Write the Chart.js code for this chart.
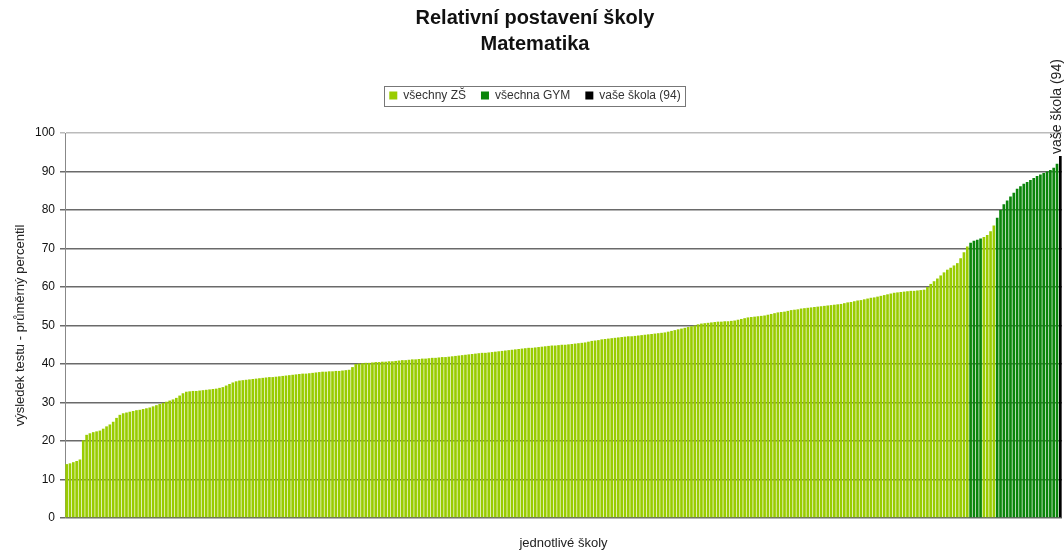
<!DOCTYPE html>
<html>
<head>
<meta charset="utf-8">
<script src="https://cdn.jsdelivr.net/npm/chart.js@4"></script>
<style>
  html, body { margin: 0; padding: 0; background: #fff; }
</style>
</head>
<body>
<canvas id="barChart" width="1064" height="552"></canvas>
<script>
// average percentile of each school, sorted from lowest to highest
const scores = [
  14, 14.2, 14.5, 14.8, 15.2, 20.2, 21.6, 22, 22.3, 22.5,
  22.7, 23.2, 23.8, 24.3, 25, 26, 26.8, 27.2, 27.4, 27.6,
  27.8, 28, 28.1, 28.3, 28.5, 28.7, 29, 29.3, 29.6, 29.9,
  30.2, 30.5, 30.8, 31.2, 31.8, 32.4, 32.8, 32.9, 33, 33,
  33.1, 33.2, 33.3, 33.4, 33.5, 33.6, 33.8, 34, 34.4, 34.8,
  35.2, 35.5, 35.7, 35.8, 35.9, 36, 36.1, 36.2, 36.3, 36.4,
  36.5, 36.6, 36.6, 36.7, 36.8, 36.9, 37, 37.1, 37.2, 37.3,
  37.4, 37.5, 37.5, 37.6, 37.7, 37.8, 37.9, 38, 38, 38.1,
  38.1, 38.2, 38.2, 38.3, 38.4, 38.5, 39.2, 40, 40.1, 40.2,
  40.3, 40.3, 40.4, 40.5, 40.5, 40.6, 40.6, 40.7, 40.7, 40.8,
  40.9, 41, 41, 41.1, 41.2, 41.2, 41.3, 41.4, 41.4, 41.5,
  41.6, 41.6, 41.7, 41.8, 41.8, 41.9, 42, 42.1, 42.2, 42.3,
  42.4, 42.5, 42.6, 42.7, 42.8, 42.9, 42.9, 43, 43.1, 43.2,
  43.3, 43.4, 43.5, 43.6, 43.7, 43.8, 43.9, 44, 44.1, 44.2,
  44.2, 44.3, 44.4, 44.5, 44.6, 44.7, 44.8, 44.8, 44.9, 45,
  45, 45.1, 45.2, 45.3, 45.4, 45.5, 45.6, 45.8, 46, 46.1,
  46.2, 46.4, 46.5, 46.6, 46.7, 46.8, 46.9, 47, 47.1, 47.2,
  47.2, 47.3, 47.4, 47.5, 47.6, 47.7, 47.8, 47.9, 48, 48.1,
  48.2, 48.4, 48.6, 48.8, 49, 49.2, 49.4, 49.6, 49.8, 50,
  50.3, 50.5, 50.6, 50.7, 50.8, 50.9, 51, 51, 51.1, 51.1,
  51.2, 51.3, 51.5, 51.7, 51.9, 52.1, 52.2, 52.3, 52.4, 52.5,
  52.6, 52.8, 53, 53.2, 53.4, 53.5, 53.6, 53.8, 54, 54.1,
  54.2, 54.4, 54.5, 54.6, 54.7, 54.8, 54.9, 55, 55.1, 55.2,
  55.3, 55.4, 55.5, 55.6, 55.8, 56, 56.1, 56.3, 56.5, 56.6,
  56.8, 57, 57.2, 57.3, 57.5, 57.7, 57.9, 58.1, 58.3, 58.5,
  58.6, 58.7, 58.8, 58.9, 59, 59, 59.1, 59.2, 59.3, 60,
  60.8, 61.5, 62.2, 63, 63.8, 64.5, 65, 65.6, 66.2, 67.5,
  69, 70.5, 71.5, 72, 72.3, 72.6, 73, 73.5, 74.5, 76,
  78, 80, 81.5, 82.5, 83.5, 84.5, 85.5, 86.2, 86.8, 87.3,
  87.8, 88.3, 88.8, 89.2, 89.6, 90, 90.4, 91, 92, 94
];
// positions (0-based) of the gymnasia and of "your" school
const gymPositions = [272, 273, 274, 275, 280, 281, 282, 283, 284, 285, 286, 287, 288, 289, 290, 291, 292, 293, 294, 295, 296, 297, 298];
const ownPosition = 299;
const schools = scores.map((s, i) => String(i + 1));

const seriesNames = ['všechny ZŠ', 'všechna GYM', 'vaše škola (94)'];
const seriesColors = ['#99cc00', '#0a850a', '#000000'];
const ownLabel = 'vaše škola (94)';

const pick = test => scores.map((v, i) => (test(i) ? v : null));
const isGym = i => gymPositions.includes(i);

const FONT = 'Liberation Sans, Arial, sans-serif';

// extra room under the legend
const legendSpace = {
  id: 'legendSpace',
  beforeInit(chart) {
    const fit = chart.legend.fit;
    chart.legend.fit = function () {
      fit.call(this);
      this.height += 21.5;
    };
  }
};

// frame round the legend, like the Excel original
const legendBox = {
  id: 'legendBox',
  afterDraw(chart) {
    const boxes = chart.legend.legendHitBoxes;
    if (!boxes || !boxes.length) return;
    const ctx = chart.ctx;
    const l = Math.min(...boxes.map(b => b.left)) - 5;
    const r = Math.max(...boxes.map(b => b.left + b.width)) + 5;
    const t = Math.min(...boxes.map(b => b.top)) - 4;
    const b = Math.max(...boxes.map(b => b.top + b.height)) + 4;
    ctx.save();
    ctx.strokeStyle = '#777';
    ctx.lineWidth = 1;
    ctx.strokeRect(Math.round(l) + 0.5, Math.round(t) + 0.5, Math.round(r - l), Math.round(b - t));
    ctx.restore();
  }
};

// vertical note above the bar of your school
const ownNote = {
  id: 'ownNote',
  afterDraw(chart) {
    const x = chart.scales.x.getPixelForValue(ownPosition);
    const y = chart.scales.y.getPixelForValue(scores[ownPosition]);
    const ctx = chart.ctx;
    ctx.save();
    ctx.translate(x - 3, y - 2);
    ctx.rotate(-Math.PI / 2);
    ctx.font = '14px ' + FONT;
    ctx.fillStyle = '#222';
    ctx.textAlign = 'left';
    ctx.textBaseline = 'middle';
    ctx.fillText(ownLabel, 0, 0);
    ctx.restore();
  }
};

new Chart(document.getElementById('barChart').getContext('2d'), {
  type: 'bar',
  data: {
    labels: schools,
    datasets: [
      {
        label: seriesNames[0],
        data: pick(i => i !== ownPosition && !isGym(i)),
        backgroundColor: seriesColors[0],
        borderWidth: 0
      },
      {
        label: seriesNames[1],
        data: pick(i => isGym(i)),
        backgroundColor: seriesColors[1],
        borderWidth: 0
      },
      {
        label: seriesNames[2],
        data: pick(i => i === ownPosition),
        backgroundColor: seriesColors[2],
        borderWidth: 0
      }
    ]
  },
  options: {
    responsive: false,
    animation: false,
    categoryPercentage: 0.8,
    barPercentage: 1,
    layout: { padding: { top: 2, left: 8, right: 2, bottom: 0 } },
    plugins: {
      tooltip: { enabled: false },
      title: {
        display: true,
        text: ['Relativní postavení školy', 'Matematika'],
        color: '#111',
        font: { family: FONT, size: 20, weight: 'bold', lineHeight: 1.3 },
        padding: { top: 3, bottom: 17.5 }
      },
      legend: {
        display: true,
        labels: {
          color: '#333',
          font: { family: FONT, size: 12 },
          boxWidth: 8,
          boxHeight: 8,
          padding: 15
        }
      }
    },
    scales: {
      x: {
        stacked: true,
        grid: { display: false, drawTicks: false },
        border: { display: false },
        ticks: { display: false },
        title: {
          display: true,
          text: 'jednotlivé školy',
          color: '#222',
          font: { family: FONT, size: 13 },
          padding: { top: 18, bottom: 0.4 }
        }
      },
      y: {
        stacked: true,
        min: 0,
        max: 100,
        afterFit: s => { s.width = 57; },
        ticks: {
          stepSize: 10,
          color: '#111',
          padding: 5,
          font: { family: FONT, size: 12 }
        },
        grid: {
          color: c => (c.tick && c.tick.value === 100 ? '#bbbbbb' : '#6a6a6a'),
          lineWidth: 1.5,
          tickLength: 5
        },
        border: { display: true, color: '#888', width: 1 },
        title: {
          display: true,
          text: 'výsledek testu - průměrný percentil',
          color: '#222',
          font: { family: FONT, size: 13 },
          padding: { top: 5, bottom: 4 }
        }
      }
    }
  },
  plugins: [legendSpace, legendBox, ownNote]
});
</script>
</body>
</html>
